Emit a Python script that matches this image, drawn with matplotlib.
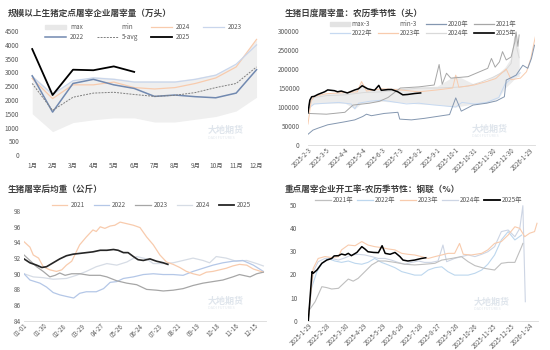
import numpy as np
import pandas as pd
import matplotlib
matplotlib.use('Agg')
import matplotlib.pyplot as plt
from matplotlib.patches import Patch
from matplotlib.lines import Line2D

plt.rcParams['font.family'] = ['Noto Sans CJK SC', 'DejaVu Sans']
plt.rcParams['axes.unicode_minus'] = False

# ---------- panel 1: monthly slaughter (10k head) ----------
months = ['1月', '2月', '3月', '4月', '5月', '6月', '7月', '8月', '9月', '10月', '11月', '12月']
m_max = [2900, 2250, 2700, 2850, 2800, 2700, 2700, 2700, 2800, 2950, 3300, 4200]
m_min = [1500, 850, 1180, 1280, 1350, 1350, 1200, 1200, 1300, 1400, 1600, 2100]
m2024 = [2780, 2050, 2550, 2550, 2650, 2450, 2400, 2450, 2600, 2800, 3200, 4200]
m2023 = [2850, 2200, 2700, 2800, 2750, 2650, 2650, 2650, 2750, 2900, 3300, 4000]
m2022 = [2880, 1560, 2600, 2750, 2550, 2420, 2130, 2180, 2120, 2080, 2250, 3100]
m_avg5 = [2600, 1620, 2100, 2250, 2280, 2200, 2130, 2170, 2270, 2450, 2600, 3200]
m2025 = [3850, 2180, 3100, 3080, 3220, 3020]

# ---------- panel 2: daily slaughter, lunar seasonal (head), days from 2025-2-3 ----------
p2_start = '2025-02-03'
d2020 = [0, 8, 16, 32, 60, 76, 89, 95, 103, 124, 146, 149, 168, 189, 230, 240, 249, 268, 290, 306, 319, 322, 338, 349, 357, 363, 368]
v2020 = [28000, 39000, 44000, 53000, 61000, 66000, 75000, 81000, 77000, 83000, 86000, 68000, 66000, 70000, 80000, 124000, 89000, 105000, 110000, 116000, 127000, 171000, 184000, 210000, 202000, 228000, 263000]
d2021 = [0, 30, 60, 73, 100, 116, 130, 150, 180, 205, 213, 218, 225, 232, 260, 292, 298, 304, 311, 316, 322, 330, 336, 338, 341, 343]
v2021 = [83000, 81000, 86000, 105000, 110000, 115000, 125000, 150000, 153000, 158000, 212000, 160000, 189000, 176000, 180000, 202000, 228000, 205000, 219000, 246000, 224000, 232000, 272000, 298000, 260000, 290000]
d2022 = [0, 10, 30, 50, 70, 76, 82, 100, 120, 140, 160, 180, 200, 220, 240, 250, 270, 290, 310, 320, 330, 340, 345]
v2022 = [95000, 108000, 110000, 112000, 108000, 95000, 110000, 115000, 118000, 113000, 108000, 110000, 106000, 103000, 100000, 112000, 108000, 112000, 125000, 160000, 175000, 185000, 190000]
d2023 = [0, 5, 10, 30, 60, 80, 87, 95, 120, 150, 180, 210, 235, 240, 245, 270, 290, 305, 315, 322, 330, 345, 355, 362, 366, 371]
v2023 = [55000, 115000, 128000, 135000, 138000, 140000, 167000, 142000, 148000, 145000, 140000, 145000, 150000, 184000, 152000, 158000, 167000, 175000, 190000, 200000, 172000, 176000, 193000, 228000, 260000, 298000]
d2024 = [0, 5, 10, 30, 60, 90, 120, 150, 180, 210, 240, 260, 280, 300, 320, 330, 336, 340, 343]
v2024 = [100000, 118000, 125000, 130000, 132000, 138000, 140000, 145000, 150000, 150000, 152000, 155000, 165000, 178000, 195000, 215000, 285000, 250000, 230000]
d2025 = [0, 3, 6, 10, 16, 27, 32, 43, 48, 54, 64, 76, 82, 88, 97, 108, 115, 119, 130, 136, 146, 154, 162, 173, 183]
v2025 = [85000, 118000, 127000, 128000, 133000, 140000, 145000, 143000, 140000, 142000, 137000, 145000, 148000, 156000, 148000, 144000, 157000, 144000, 146000, 146000, 140000, 132000, 133000, 135500, 137000]
d_band = [0, 10, 30, 60, 76, 87, 100, 120, 150, 180, 210, 240, 270, 290, 300, 310, 320, 330, 336, 340, 343]
band_hi = [110000, 130000, 136000, 140000, 142000, 165000, 145000, 150000, 150000, 152000, 155000, 184000, 160000, 170000, 180000, 190000, 205000, 230000, 290000, 270000, 250000]
band_lo = [100000, 108000, 110000, 110000, 95000, 110000, 112000, 115000, 112000, 108000, 106000, 100000, 108000, 110000, 115000, 125000, 150000, 165000, 175000, 180000, 180000]

# ---------- panel 3: average carcass weight (kg), days from 01-01 ----------
w_d21 = [0, 9, 14, 22, 29, 39, 49, 57, 64, 72, 84, 94, 104, 109, 115, 122, 130, 137, 145, 155, 165, 175, 185, 195, 205, 215, 225, 235, 245, 255, 265, 275, 285, 295, 305, 315, 325, 336, 346, 361]
w_v21 = [94.1, 93.4, 92.4, 92.0, 90.9, 90.5, 90.3, 90.5, 91.1, 91.6, 93.7, 94.7, 95.6, 95.4, 96.0, 95.8, 96.1, 96.2, 96.6, 96.4, 96.2, 95.9, 94.7, 93.7, 92.4, 91.5, 91.2, 90.8, 90.3, 90.0, 89.8, 90.2, 90.3, 90.5, 90.7, 91.0, 91.2, 91.1, 90.6, 90.2]
w_d22 = [0, 9, 24, 34, 44, 54, 64, 75, 84, 94, 109, 120, 130, 140, 150, 165, 180, 195, 210, 225, 240, 255, 270, 285, 300, 315, 330, 346, 361]
w_v22 = [90.0, 89.2, 88.8, 88.3, 87.6, 87.3, 87.1, 86.9, 87.5, 87.7, 87.7, 88.1, 88.9, 89.0, 89.4, 89.6, 89.9, 90.0, 89.9, 89.9, 89.8, 90.3, 90.7, 91.1, 91.4, 91.6, 91.7, 91.1, 90.3]
w_d23 = [0, 9, 19, 29, 39, 47, 54, 62, 72, 84, 99, 115, 125, 140, 155, 170, 185, 200, 210, 225, 240, 255, 270, 285, 300, 315, 325, 341, 351, 361]
w_v23 = [92.4, 91.7, 90.9, 90.3, 89.6, 89.8, 90.1, 89.8, 90.0, 90.0, 89.8, 89.8, 89.6, 89.1, 88.8, 88.6, 88.0, 87.9, 87.8, 87.9, 88.1, 88.5, 88.8, 89.0, 89.2, 89.6, 89.9, 89.6, 90.0, 90.2]
w_d24 = [0, 14, 29, 44, 64, 79, 94, 109, 125, 140, 155, 170, 185, 195, 210, 225, 240, 255, 270, 280, 290, 305, 320, 336, 351, 361]
w_v24 = [90.0, 89.6, 89.5, 89.3, 89.4, 89.8, 90.3, 90.9, 91.3, 91.1, 91.5, 92.2, 91.9, 91.3, 91.3, 91.4, 91.7, 92.0, 91.7, 91.4, 92.2, 92.0, 91.6, 91.7, 91.3, 91.0]
w_d25 = [0, 9, 19, 27, 34, 44, 54, 64, 74, 84, 94, 104, 115, 125, 135, 142, 150, 157, 165, 172, 180, 190, 200, 210, 217]
w_v25 = [91.9, 91.4, 91.1, 90.8, 90.9, 91.4, 91.9, 92.3, 92.5, 92.6, 92.7, 92.8, 93.0, 93.0, 93.1, 93.0, 92.7, 92.7, 92.2, 91.8, 91.7, 91.9, 91.6, 91.4, 91.2]

# ---------- panel 4: operating rate (%), days from 2025-1-29 ----------
p4_start = '2025-01-29'
r_d21 = [0, 11, 22, 30, 38, 49, 65, 73, 81, 92, 103, 114, 125, 141, 157, 173, 189, 206, 217, 233, 249, 260, 271, 287, 303, 314, 325, 336, 347, 349]
r_v21 = [4.0, 8.2, 14.7, 14.3, 13.7, 14.0, 18.0, 17.1, 18.3, 21.2, 24.1, 25.8, 25.8, 25.2, 24.4, 24.1, 24.4, 24.8, 26.2, 26.9, 27.7, 25.5, 23.8, 22.6, 21.9, 24.8, 25.2, 25.2, 32.0, 33.4]
r_d22 = [0, 5, 14, 22, 32, 43, 54, 65, 76, 87, 97, 108, 119, 130, 141, 152, 162, 173, 184, 195, 206, 217, 227, 238, 249, 260, 271, 282, 292, 303, 314, 325, 336, 347]
r_v22 = [1.0, 14.0, 21.2, 24.8, 26.9, 25.8, 25.2, 25.8, 24.8, 24.4, 25.2, 26.9, 25.2, 24.1, 22.9, 21.2, 20.5, 19.7, 19.7, 21.9, 22.9, 23.3, 21.2, 19.7, 19.7, 19.7, 20.5, 21.9, 24.4, 28.4, 34.9, 38.5, 34.9, 37.0]
r_d23 = [0, 8, 16, 27, 38, 49, 54, 65, 76, 87, 97, 108, 119, 130, 141, 152, 162, 173, 184, 195, 206, 217, 227, 238, 246, 252, 265, 282, 292, 303, 314, 325, 336, 344, 352, 360, 368, 372]
r_v23 = [1.0, 22.6, 26.9, 27.7, 27.3, 27.7, 30.6, 32.7, 32.4, 34.2, 32.7, 32.0, 31.6, 31.0, 30.6, 29.1, 28.7, 28.4, 27.7, 26.9, 27.7, 28.4, 29.1, 29.1, 33.4, 28.7, 28.4, 29.1, 30.6, 33.4, 34.2, 37.0, 40.6, 39.9, 36.3, 37.8, 38.5, 42.1]
r_d24 = [0, 8, 16, 27, 38, 49, 60, 70, 81, 92, 103, 114, 125, 135, 146, 157, 168, 179, 189, 200, 211, 219, 225, 238, 249, 260, 271, 282, 292, 303, 314, 325, 336, 344, 349, 353]
r_v24 = [1.0, 21.2, 25.5, 26.9, 26.9, 26.2, 27.2, 28.4, 28.7, 28.4, 27.7, 26.9, 26.9, 26.2, 25.2, 24.4, 25.2, 25.8, 25.2, 25.2, 25.8, 32.7, 25.5, 26.9, 27.7, 28.4, 27.7, 28.7, 29.8, 32.0, 38.5, 39.2, 36.3, 39.9, 49.7, 8.2]
r_d25 = [0, 6, 8, 14, 22, 30, 38, 42, 49, 54, 60, 65, 70, 79, 87, 92, 97, 106, 114, 120, 125, 133, 141, 149, 154, 162, 173, 184, 191]
r_v25 = [0, 21.2, 20.5, 21.9, 24.8, 26.2, 26.9, 28.0, 28.1, 28.8, 28.4, 29.1, 28.1, 29.5, 32.0, 31.0, 29.8, 29.5, 29.4, 32.4, 29.1, 28.7, 29.5, 27.7, 26.2, 25.8, 26.2, 26.9, 27.2]

TICK = '#595959'
FS = 4.6


def dates(start, days):
    return pd.Timestamp(start) + pd.to_timedelta(days, unit='D')


def style(ax, bottom=True):
    for s in ['top', 'right', 'left']:
        ax.spines[s].set_visible(False)
    ax.spines['bottom'].set_visible(bottom)
    ax.spines['bottom'].set_color('#d9d9d9')
    ax.spines['bottom'].set_linewidth(0.6)
    ax.tick_params(length=0, labelsize=FS, colors=TICK, pad=2)
    ax.set_facecolor('none')


def watermark(ax, x, y):
    ax.text(x, y, '大地期货', transform=ax.transAxes, fontsize=6.5, color='#dfe5ec',
            fontweight='bold', ha='left', va='center', zorder=0)
    ax.text(x, y - 0.06, 'DADI FUTURES', transform=ax.transAxes, fontsize=2.8,
            color='#e3e8ee', ha='left', va='center', zorder=0)


def date_ticks(ax, start, n, step, fmt=None):
    ticks = [pd.Timestamp(start) + pd.Timedelta(days=step * k) for k in range(n)]
    ax.set_xticks(ticks)
    if fmt is None:
        labels = [f'{t.year}-{t.month}-{t.day}' for t in ticks]
    else:
        labels = [t.strftime(fmt) for t in ticks]
    ax.set_xticklabels(labels, rotation=45, ha='right', rotation_mode='anchor', fontsize=4.4)
    ax.tick_params(axis='x', pad=1)


def legend(ax, handles, ncol, x, y, hl, cs, tp, ls=0.3):
    ax.legend(handles=handles, ncol=ncol, frameon=False, fontsize=FS, loc='upper left',
              bbox_to_anchor=(x / 550, 1 - y / 350), bbox_transform=fig.transFigure,
              handlelength=hl, handleheight=0.55, columnspacing=cs, labelspacing=ls,
              handletextpad=tp, labelcolor=TICK, borderaxespad=0, borderpad=0)


fig = plt.figure(figsize=(5.5, 3.5), dpi=100)
fig.patch.set_facecolor('white')

# ---------- panel 1 ----------
ax1 = fig.add_axes([0.04, 0.557, 0.445, 0.354])
x = np.arange(len(months))
ax1.fill_between(x, m_min, m_max, color='#efefef', lw=0, zorder=1)
ax1.plot(x, m2024, color='#f8cbad', lw=0.9, zorder=2)
ax1.plot(x, m2023, color='#c9d6ec', lw=0.9, zorder=2)
ax1.plot(x, m2022, color='#7189b0', lw=1.1, zorder=3)
ax1.plot(x, m_avg5, color='#7f7f7f', lw=0.7, ls=(0, (2, 1.2)), zorder=3)
ax1.plot(np.arange(len(m2025)), m2025, color='black', lw=1.3, zorder=4)
ax1.set_xlim(-0.5, 11.5)
ax1.set_ylim(0, 4500)
ax1.set_yticks(range(0, 4501, 500))
ax1.set_xticks(x)
ax1.set_xticklabels(months)
style(ax1, bottom=False)
ax1.tick_params(axis='x', pad=5)
watermark(ax1, 0.76, 0.2)
h1 = [Patch(color='#e8e8e8', label='max'), Line2D([], [], color='#7189b0', lw=1.1, label='2022'),
      Patch(color='white', label='min'), Line2D([], [], color='#7f7f7f', lw=0.7, ls=(0, (2, 1.2)), label='5-avg'),
      Line2D([], [], color='#f8cbad', lw=0.9, label='2024'), Line2D([], [], color='black', lw=1.3, label='2025'),
      Line2D([], [], color='#c9d6ec', lw=0.9, label='2023')]
legend(ax1, h1, 4, 45, 23, 3.3, 2.0, 0.6)

# ---------- panel 2 ----------
ax2 = fig.add_axes([0.56, 0.586, 0.413, 0.325])
ax2.fill_between(dates(p2_start, d_band), band_lo, band_hi, color='#ececec', lw=0, zorder=1)
ax2.plot(dates(p2_start, d2024), v2024, color='#d9d9d9', lw=0.7, zorder=2)
ax2.plot(dates(p2_start, d2022), v2022, color='#c6d9f1', lw=0.7, zorder=2)
ax2.plot(dates(p2_start, d2023), v2023, color='#f8cbad', lw=0.7, zorder=2)
ax2.plot(dates(p2_start, d2021), v2021, color='#a6a6a6', lw=0.7, zorder=3)
ax2.plot(dates(p2_start, d2020), v2020, color='#8497b0', lw=0.7, zorder=3)
ax2.plot(dates(p2_start, d2025), v2025, color='black', lw=1.1, zorder=4)
ax2.set_xlim(pd.Timestamp(p2_start), pd.Timestamp(p2_start) + pd.Timedelta(days=369))
ax2.set_ylim(0, 300000)
ax2.set_yticks(range(0, 300001, 50000))
style(ax2)
date_ticks(ax2, p2_start, 13, 30)
ax2.tick_params(axis='y', pad=6)
watermark(ax2, 0.72, 0.14)
h2 = [Patch(color='#e3e3e3', label='max-3'), Line2D([], [], color='#c6d9f1', lw=0.9, label='2022年'),
      Patch(color='white', label='min-3'), Line2D([], [], color='#f8cbad', lw=0.9, label='2023年'),
      Line2D([], [], color='#8497b0', lw=0.9, label='2020年'), Line2D([], [], color='#d9d9d9', lw=0.9, label='2024年'),
      Line2D([], [], color='#a6a6a6', lw=0.9, label='2021年'), Line2D([], [], color='black', lw=1.2, label='2025年')]
legend(ax2, h2, 4, 330, 20, 3.1, 0.9, 0.3, ls=0.15)

# ---------- panel 3 ----------
ax3 = fig.add_axes([0.0436, 0.0837, 0.44, 0.313])
w_start = '2025-01-01'
ax3.plot(dates(w_start, w_d24), w_v24, color='#d6dce5', lw=0.9, zorder=2)
ax3.plot(dates(w_start, w_d22), w_v22, color='#b4c7e7', lw=0.9, zorder=2)
ax3.plot(dates(w_start, w_d21), w_v21, color='#f8cbad', lw=0.9, zorder=2)
ax3.plot(dates(w_start, w_d23), w_v23, color='#a6a6a6', lw=0.9, zorder=3)
ax3.plot(dates(w_start, w_d25), w_v25, color='#262626', lw=1.2, zorder=4)
ax3.set_xlim(pd.Timestamp(w_start), pd.Timestamp(w_start) + pd.Timedelta(days=365))
ax3.set_ylim(84, 98)
ax3.set_yticks(range(84, 99, 2))
style(ax3)
date_ticks(ax3, w_start, 13, 29, fmt='%m-%d')
watermark(ax3, 0.76, 0.18)
h3 = [Line2D([], [], color=c, lw=w, label=l) for c, w, l in
      [('#f8cbad', 0.9, '2021'), ('#b4c7e7', 0.9, '2022'), ('#a6a6a6', 0.9, '2023'),
       ('#d6dce5', 0.9, '2024'), ('#262626', 1.3, '2025')]]
legend(ax3, h3, 5, 52, 201, 2.4, 1.4, 0.5)

# ---------- panel 4 ----------
ax4 = fig.add_axes([0.5606, 0.0837, 0.418, 0.3306])
ax4.plot(dates(p4_start, r_d24), r_v24, color='#cdd5e4', lw=0.8, zorder=2)
ax4.plot(dates(p4_start, r_d22), r_v22, color='#bdd7ee', lw=0.8, zorder=2)
ax4.plot(dates(p4_start, r_d23), r_v23, color='#f8cbad', lw=0.8, zorder=2)
ax4.plot(dates(p4_start, r_d21), r_v21, color='#bfbfbf', lw=0.8, zorder=3)
ax4.plot(dates(p4_start, r_d25), r_v25, color='black', lw=1.1, zorder=4)
ax4.set_xlim(pd.Timestamp(p4_start), pd.Timestamp(p4_start) + pd.Timedelta(days=374))
ax4.set_ylim(0, 50)
ax4.set_yticks(range(0, 51, 10))
style(ax4)
date_ticks(ax4, p4_start, 13, 30)
ax4.tick_params(axis='y', pad=8)
watermark(ax4, 0.72, 0.16)
h4 = [Line2D([], [], color=c, lw=w, label=l) for c, w, l in
      [('#bfbfbf', 0.9, '2021年'), ('#bdd7ee', 0.9, '2022年'), ('#f8cbad', 0.9, '2023年'),
       ('#cdd5e4', 0.9, '2024年'), ('black', 1.3, '2025年')]]
legend(ax4, h4, 5, 315, 196, 2.5, 0.6, 0.3)

# ---------- titles ----------
tkw = dict(fontsize=6.2, fontweight='bold', color='#404040', va='center', ha='left')
fig.text(8 / 550, 1 - 13 / 350, '规模以上生猪定点屠宰企业屠宰量（万头）', **tkw)
fig.text(285 / 550, 1 - 13 / 350, '生猪日度屠宰量：农历季节性（头）', **tkw)
fig.text(8 / 550, 1 - 189 / 350, '生猪屠宰后均重（公斤）', **tkw)
fig.text(285 / 550, 1 - 189 / 350, '重点屠宰企业开工率-农历季节性：钢联（%）', **tkw)

fig.savefig('out.png', dpi=100)
